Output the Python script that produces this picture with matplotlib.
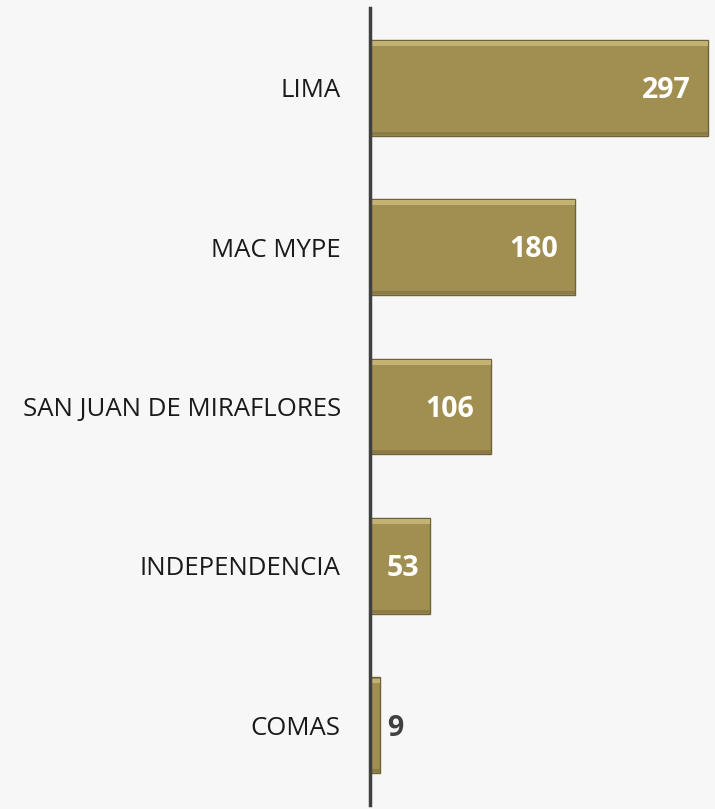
import matplotlib
matplotlib.use("Agg")
import matplotlib.pyplot as plt

categories = ["LIMA", "MAC MYPE", "SAN JUAN DE MIRAFLORES", "INDEPENDENCIA", "COMAS"]
values = [297, 180, 106, 53, 9]

plt.rcParams['font.family'] = ['Open Sans', 'DejaVu Sans']

bg = '#f7f7f7'
bar_color = '#a08f50'
fig = plt.figure(figsize=(7.15, 8.09), dpi=100, facecolor=bg)
ax = fig.add_axes([370/715, 4/809, 345/715, 797/809], facecolor=bg)

ypos = list(range(len(categories)))
h = 0.6
ax.barh(ypos, values, height=h, color=bar_color, edgecolor='#6e6238', linewidth=1.0, zorder=2)
# bevel highlight along the top edge and shade along the bottom
ax.barh([y - h/2 + 0.022 for y in ypos], values, height=0.03, color='#c2b273',
        linewidth=0, zorder=3)
ax.barh([y + h/2 - 0.015 for y in ypos], values, height=0.02, color='#8a7c44',
        linewidth=0, zorder=3)

ax.set_xlim(0, 303)
ax.set_ylim(len(categories) - 0.5, -0.5)
ax.set_yticks(ypos)
ax.set_yticklabels(categories, fontsize=18.5, color='#1a1a1a')
ax.tick_params(axis='y', length=0, pad=21)
ax.set_xticks([])
for s in ['top', 'right', 'bottom']:
    ax.spines[s].set_visible(False)
ax.spines['left'].set_color('#404040')
ax.spines['left'].set_linewidth(2.5)
ax.spines['left'].set_zorder(5)

for y, v in zip(ypos, values):
    if v > 30:
        inset = 15 if v > 80 else 10
        ax.annotate(str(v), (v, y), xytext=(-inset * 1.138 * 0.72, -2),
                    textcoords='offset points', ha='right', va='center',
                    color='white', fontsize=20.5, fontweight='bold', zorder=6)
    else:
        ax.annotate(str(v), (v, y), xytext=(5, -2),
                    textcoords='offset points', ha='left', va='center',
                    color='#404040', fontsize=20.5, fontweight='bold', zorder=6)

fig.savefig('out.png', dpi=100, facecolor=bg)
